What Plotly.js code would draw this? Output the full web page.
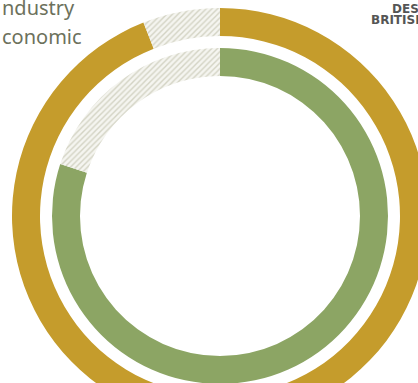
<!DOCTYPE html>
<html>
<head>
<meta charset="utf-8">
<script src="https://cdn.plot.ly/plotly-3.0.1.min.js"></script>
<style>
  html, body { margin: 0; padding: 0; width: 418px; height: 383px; overflow: hidden; background: #fff; }
  #chart { position: absolute; left: 0; top: 0; width: 440px; height: 430px; }
</style>
</head>
<body>
<div id="chart"></div>
<script>
// Data
const outerLabels = ['Outer share', 'Other (outer)'];
const outerValues = [94, 6];
const innerLabels = ['Inner share', 'Other (inner)'];
const innerValues = [80, 20];
const leftTexts = ['ndustry', 'conomic'];
const rightTexts = ['DES', 'BRITISH'];

const W = 440, H = 430;
const cx = 220, cy = 216;           // centre in px (from top-left)
const px = v => v / W;
const py = v => (H - v) / H;

const gold = '#C59C2C';
const green = '#8CA564';
const hatchBg = '#f5f5f0';
const hatchFg = '#d3d3c4';

function dom(r) {
  return {x: [px(cx - r), px(cx + r)], y: [py(cy + r), py(cy - r)]};
}

const traces = [
  {
    type: 'pie', labels: outerLabels, values: outerValues, sort: false,
    direction: 'clockwise', rotation: 0, hole: 180 / 208,
    domain: dom(208), textinfo: 'none', hoverinfo: 'label+value',
    marker: {colors: [gold, hatchBg], line: {width: 0},
             pattern: {shape: ['', '/'], bgcolor: [gold, hatchBg], fgcolor: [gold, hatchFg], size: 4, solidity: 0.35}},
    showlegend: false
  },
  {
    type: 'pie', labels: innerLabels, values: innerValues, sort: false,
    direction: 'clockwise', rotation: 0, hole: 140 / 168,
    domain: dom(168), textinfo: 'none', hoverinfo: 'label+value',
    marker: {colors: [green, hatchBg], line: {width: 0},
             pattern: {shape: ['', '/'], bgcolor: [green, hatchBg], fgcolor: [green, hatchFg], size: 4, solidity: 0.35}},
    showlegend: false
  }
];

const textColor = '#6C715C';
const annotations = [
  {text: leftTexts[0], x: px(0), y: py(7.5), xanchor: 'left', yanchor: 'middle',
   font: {family: 'Noto Sans', size: 20, color: textColor}},
  {text: leftTexts[1], x: px(0), y: py(36.5), xanchor: 'left', yanchor: 'middle',
   font: {family: 'Noto Sans', size: 20, color: textColor}},
  {text: '<b>' + rightTexts[0] + '</b>', x: px(390), y: py(8.5), xanchor: 'left', yanchor: 'middle', height: 9,
   font: {family: 'DejaVu Sans', size: 12, color: '#555555'}},
  {text: '<b>' + rightTexts[1] + '</b>', x: px(369), y: py(19.5), xanchor: 'left', yanchor: 'middle', height: 9,
   font: {family: 'DejaVu Sans', size: 12, color: '#555555'}}
].map(a => Object.assign({xref: 'paper', yref: 'paper', showarrow: false}, a));

const layout = {
  width: W, height: H,
  margin: {l: 0, r: 0, t: 0, b: 0},
  paper_bgcolor: '#ffffff', plot_bgcolor: '#ffffff',
  showlegend: false,
  annotations: annotations
};

Plotly.newPlot('chart', traces, layout, {staticPlot: true, displayModeBar: false});
</script>
</body>
</html>
